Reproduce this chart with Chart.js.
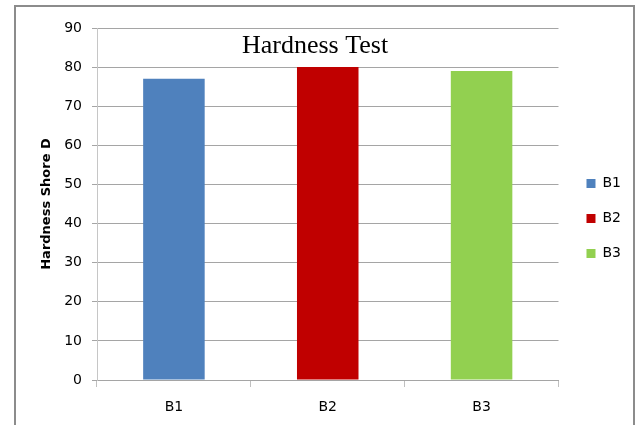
<!DOCTYPE html>
<html>
<head>
<meta charset="utf-8">
<script src="https://cdn.jsdelivr.net/npm/chart.js@4/dist/chart.umd.min.js"></script>
<style>
    html, body { margin: 0; padding: 0; background: #fff; }
    #wrap { width: 639px; height: 425px; position: relative; }
</style>
</head>
<body>
<div id="wrap"><canvas id="hardnessChart"></canvas></div>
<script>
// hardness data
var samples = ["B1", "B2", "B3"];
var hardness = [77, 80, 79];
var barColors = ["#4f81bd", "#c00000", "#92d050"];
var yTicks = [0, 10, 20, 30, 40, 50, 60, 70, 80, 90];

var sansFont = "'DejaVu Sans', sans-serif";

// white page + frame around the whole chart
var framePlugin = {
    id: "frame",
    beforeDraw: function (chart) {
        var c = chart.ctx;
        c.save();
        c.fillStyle = "#fff";
        c.fillRect(0, 0, chart.width, chart.height);
        c.strokeStyle = "#8c8c8c";
        c.lineWidth = 2;
        c.strokeRect(15, 6, 619, 500);
        c.restore();
    },
};

// x scale is kept short so the legend centres where we want it;
// let its labels hang below the box instead of being clipped
var labelRoomPlugin = {
    id: "labelRoom",
    afterLayout: function (chart) {
        chart.scales.x.bottom = chart.height;
    },
};

// chart title sits inside the plot area
var titlePlugin = {
    id: "innerTitle",
    afterDatasetsDraw: function (chart) {
        var a = chart.chartArea;
        var c = chart.ctx;
        c.save();
        c.font = "26px 'Liberation Serif', serif";
        c.fillStyle = "#000";
        c.textAlign = "center";
        c.textBaseline = "alphabetic";
        c.fillText("Hardness Test", a.left + 218, a.top + 24.5);
        c.restore();
    },
};

var ctx = document.getElementById("hardnessChart").getContext("2d");
var hardnessChart = new Chart(ctx, {
    type: "bar",
    data: {
        labels: samples,
        datasets: [
            {
                label: "Hardness",
                data: hardness,
                backgroundColor: barColors,
                borderWidth: 0,
                barPercentage: 0.4,
                categoryPercentage: 1,
            },
        ],
    },
    options: {
        responsive: true,
        maintainAspectRatio: false,
        animation: false,
        events: [],
        layout: {
            padding: { left: 35, top: 28, right: 8, bottom: 16 },
        },
        plugins: {
            tooltip: { enabled: false },
            title: { display: false },
            legend: {
                position: "right",
                labels: {
                    boxWidth: 9,
                    boxHeight: 9,
                    padding: 21,
                    color: "#000",
                    font: { family: sansFont, size: 14 },
                    generateLabels: function () {
                        return samples.map(function (s, i) {
                            return {
                                text: s,
                                fillStyle: barColors[i],
                                strokeStyle: barColors[i],
                                lineWidth: 0,
                                index: i,
                            };
                        });
                    },
                },
            },
        },
        scales: {
            x: {
                grid: {
                    drawOnChartArea: false,
                    tickLength: 7,
                    color: "#c0c0c0",
                },
                border: { color: "#a5a5a5" },
                ticks: {
                    padding: 12,
                    color: "#000",
                    font: { family: sansFont, size: 14 },
                },
                afterFit: function (scale) {
                    scale.height = 29;
                },
            },
            y: {
                min: 0,
                max: 90,
                afterBuildTicks: function (scale) {
                    scale.ticks = yTicks.map(function (v) {
                        return { value: v };
                    });
                },
                grid: {
                    color: "#a5a5a5",
                    tickLength: 5,
                },
                border: { color: "#c6c6c6" },
                ticks: {
                    padding: 10,
                    color: "#000",
                    font: { family: sansFont, size: 14 },
                },
                title: {
                    display: true,
                    text: "Hardness Shore D",
                    color: "#000",
                    padding: { top: 4, bottom: 0 },
                    font: { family: sansFont, size: 13, weight: "bold" },
                },
                afterFit: function (scale) {
                    scale.width = 62;
                },
            },
            // empty spacer between plot and legend
            gap: {
                type: "linear",
                position: "right",
                grid: { display: false },
                border: { display: false },
                ticks: { display: false },
                afterFit: function (scale) {
                    scale.width = 7;
                },
            },
        },
    },
    plugins: [framePlugin, labelRoomPlugin, titlePlugin],
});
</script>
</body>
</html>
